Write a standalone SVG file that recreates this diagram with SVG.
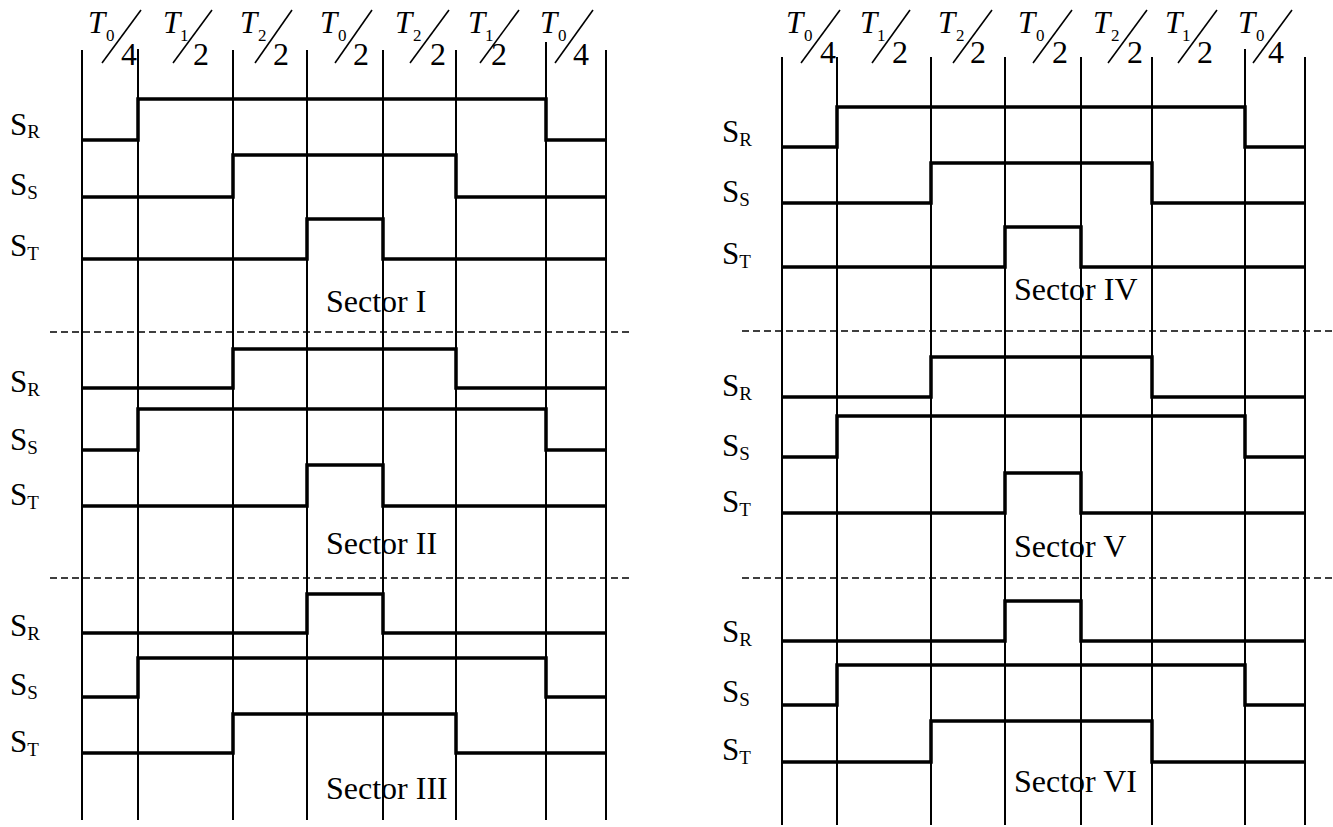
<svg xmlns="http://www.w3.org/2000/svg" width="1333" height="827" viewBox="0 0 1333 827">
<style>
.grid{stroke:#000;stroke-width:2;fill:none}
.wave{stroke:#000;stroke-width:3.5;fill:none;stroke-linejoin:miter}
.dash{stroke:#000;stroke-width:1.6;stroke-dasharray:7 4;fill:none}
.sl{stroke:#000;stroke-width:1.6}
.t{font-size:31px;font-style:italic}
.ts{font-size:17px}
.d{font-size:32px}
.lab{font-size:31px}
.sub{font-size:19px}
.sec{font-size:32px}
</style>
<rect width="1333" height="827" fill="#fff"/>

<g id="left-grid" class="grid">
<line x1="82" y1="50" x2="82" y2="820"/>
<line x1="138" y1="49" x2="138" y2="820"/>
<line x1="233" y1="50" x2="233" y2="820"/>
<line x1="307" y1="50" x2="307" y2="820"/>
<line x1="383" y1="50" x2="383" y2="820"/>
<line x1="456" y1="50" x2="456" y2="820"/>
<line x1="546" y1="42" x2="546" y2="820"/>
<line x1="606" y1="50" x2="606" y2="820"/>
</g>
<g id="right-grid" class="grid">
<line x1="782" y1="57" x2="782" y2="825"/>
<line x1="837" y1="57" x2="837" y2="825"/>
<line x1="931" y1="57" x2="931" y2="825"/>
<line x1="1005" y1="57" x2="1005" y2="825"/>
<line x1="1081" y1="57" x2="1081" y2="825"/>
<line x1="1152" y1="57" x2="1152" y2="825"/>
<line x1="1245" y1="49" x2="1245" y2="825"/>
<line x1="1305" y1="57" x2="1305" y2="825"/>
</g>

<g id="separators" class="dash">
<line x1="50" y1="332" x2="632" y2="332"/>
<line x1="50" y1="578" x2="632" y2="578"/>
<line x1="742" y1="331" x2="1333" y2="331"/>
<line x1="742" y1="578" x2="1333" y2="578"/>
</g>

<g font-family="'Liberation Serif', 'Times New Roman', serif" fill="#000">
<g id="left-header">
<text class="t" x="88" y="33">T</text><text class="ts" x="106" y="41">0</text><line class="sl" x1="102" y1="63" x2="141" y2="10"/><text class="d" x="121" y="65">4</text>
<text class="t" x="163" y="33">T</text><text class="ts" x="180" y="41">1</text><line class="sl" x1="173" y1="63" x2="212" y2="10"/><text class="d" x="193" y="65">2</text>
<text class="t" x="240" y="33">T</text><text class="ts" x="258" y="41">2</text><line class="sl" x1="255" y1="63" x2="292" y2="10"/><text class="d" x="273" y="65">2</text>
<text class="t" x="320" y="33">T</text><text class="ts" x="338" y="41">0</text><line class="sl" x1="335" y1="63" x2="372" y2="10"/><text class="d" x="353" y="65">2</text>
<text class="t" x="395" y="33">T</text><text class="ts" x="413" y="41">2</text><line class="sl" x1="410" y1="63" x2="449" y2="10"/><text class="d" x="430" y="65">2</text>
<text class="t" x="468" y="33">T</text><text class="ts" x="485" y="41">1</text><line class="sl" x1="480" y1="63" x2="519" y2="10"/><text class="d" x="491" y="65">2</text>
<text class="t" x="540" y="33">T</text><text class="ts" x="558" y="41">0</text><line class="sl" x1="555" y1="63" x2="593" y2="10"/><text class="d" x="573" y="65">4</text>
</g>
<g id="right-header">
<text class="t" x="786" y="33">T</text><text class="ts" x="804" y="41">0</text><line class="sl" x1="801" y1="63" x2="840" y2="10"/><text class="d" x="820" y="63">4</text>
<text class="t" x="860" y="33">T</text><text class="ts" x="877" y="41">1</text><line class="sl" x1="872" y1="63" x2="910" y2="10"/><text class="d" x="892" y="63">2</text>
<text class="t" x="938" y="33">T</text><text class="ts" x="956" y="41">2</text><line class="sl" x1="953" y1="63" x2="992" y2="10"/><text class="d" x="970" y="63">2</text>
<text class="t" x="1018" y="33">T</text><text class="ts" x="1036" y="41">0</text><line class="sl" x1="1033" y1="63" x2="1072" y2="10"/><text class="d" x="1052" y="63">2</text>
<text class="t" x="1093" y="33">T</text><text class="ts" x="1111" y="41">2</text><line class="sl" x1="1108" y1="63" x2="1147" y2="10"/><text class="d" x="1127" y="63">2</text>
<text class="t" x="1165" y="33">T</text><text class="ts" x="1182" y="41">1</text><line class="sl" x1="1178" y1="63" x2="1217" y2="10"/><text class="d" x="1197" y="63">2</text>
<text class="t" x="1238" y="33">T</text><text class="ts" x="1256" y="41">0</text><line class="sl" x1="1253" y1="63" x2="1292" y2="10"/><text class="d" x="1268" y="63">4</text>
</g>

<g id="sector-I">
<polyline class="wave" points="82,140 138,140 138,99 546,99 546,140 606,140"/>
<polyline class="wave" points="82,197 233,197 233,155 456,155 456,197 606,197"/>
<polyline class="wave" points="82,259 307,259 307,219 383,219 383,259 606,259"/>
<text class="lab" x="10" y="135">S<tspan class="sub" dy="3">R</tspan></text>
<text class="lab" x="10" y="195">S<tspan class="sub" dy="4">S</tspan></text>
<text class="lab" x="10" y="256">S<tspan class="sub" dy="4">T</tspan></text>
<text class="sec" x="326" y="312">Sector I</text>
</g>
<g id="sector-II">
<polyline class="wave" points="82,388 233,388 233,349 456,349 456,388 606,388"/>
<polyline class="wave" points="82,450 138,450 138,409 546,409 546,450 606,450"/>
<polyline class="wave" points="82,506 307,506 307,465 383,465 383,506 606,506"/>
<text class="lab" x="10" y="392">S<tspan class="sub" dy="4">R</tspan></text>
<text class="lab" x="10" y="450">S<tspan class="sub" dy="4">S</tspan></text>
<text class="lab" x="10" y="505">S<tspan class="sub" dy="4">T</tspan></text>
<text class="sec" x="326" y="554">Sector II</text>
</g>
<g id="sector-III">
<polyline class="wave" points="82,633 307,633 307,594 383,594 383,633 606,633"/>
<polyline class="wave" points="82,697 138,697 138,658 546,658 546,697 606,697"/>
<polyline class="wave" points="82,753 233,753 233,714 456,714 456,753 606,753"/>
<text class="lab" x="10" y="636">S<tspan class="sub" dy="4">R</tspan></text>
<text class="lab" x="10" y="695">S<tspan class="sub" dy="4">S</tspan></text>
<text class="lab" x="10" y="752">S<tspan class="sub" dy="4">T</tspan></text>
<text class="sec" x="326" y="799">Sector III</text>
</g>

<g id="sector-IV">
<polyline class="wave" points="782,147 837,147 837,107 1245,107 1245,147 1305,147"/>
<polyline class="wave" points="782,203 931,203 931,163 1152,163 1152,203 1305,203"/>
<polyline class="wave" points="782,267 1005,267 1005,227 1081,227 1081,267 1305,267"/>
<text class="lab" x="722" y="142">S<tspan class="sub" dy="4">R</tspan></text>
<text class="lab" x="722" y="202">S<tspan class="sub" dy="4">S</tspan></text>
<text class="lab" x="722" y="264">S<tspan class="sub" dy="4">T</tspan></text>
<text class="sec" x="1014" y="300">Sector IV</text>
</g>
<g id="sector-V">
<polyline class="wave" points="782,397 931,397 931,357 1152,357 1152,397 1305,397"/>
<polyline class="wave" points="782,457 837,457 837,416 1245,416 1245,457 1305,457"/>
<polyline class="wave" points="782,513 1005,513 1005,473 1081,473 1081,513 1305,513"/>
<text class="lab" x="722" y="396">S<tspan class="sub" dy="4">R</tspan></text>
<text class="lab" x="722" y="456">S<tspan class="sub" dy="4">S</tspan></text>
<text class="lab" x="722" y="512">S<tspan class="sub" dy="4">T</tspan></text>
<text class="sec" x="1014" y="557">Sector V</text>
</g>
<g id="sector-VI">
<polyline class="wave" points="782,641 1005,641 1005,601 1081,601 1081,641 1305,641"/>
<polyline class="wave" points="782,705 837,705 837,665 1245,665 1245,705 1305,705"/>
<polyline class="wave" points="782,762 931,762 931,721 1152,721 1152,762 1305,762"/>
<text class="lab" x="722" y="642">S<tspan class="sub" dy="4">R</tspan></text>
<text class="lab" x="722" y="702">S<tspan class="sub" dy="4">S</tspan></text>
<text class="lab" x="722" y="760">S<tspan class="sub" dy="4">T</tspan></text>
<text class="sec" x="1014" y="792">Sector VI</text>
</g>
</g>
</svg>
